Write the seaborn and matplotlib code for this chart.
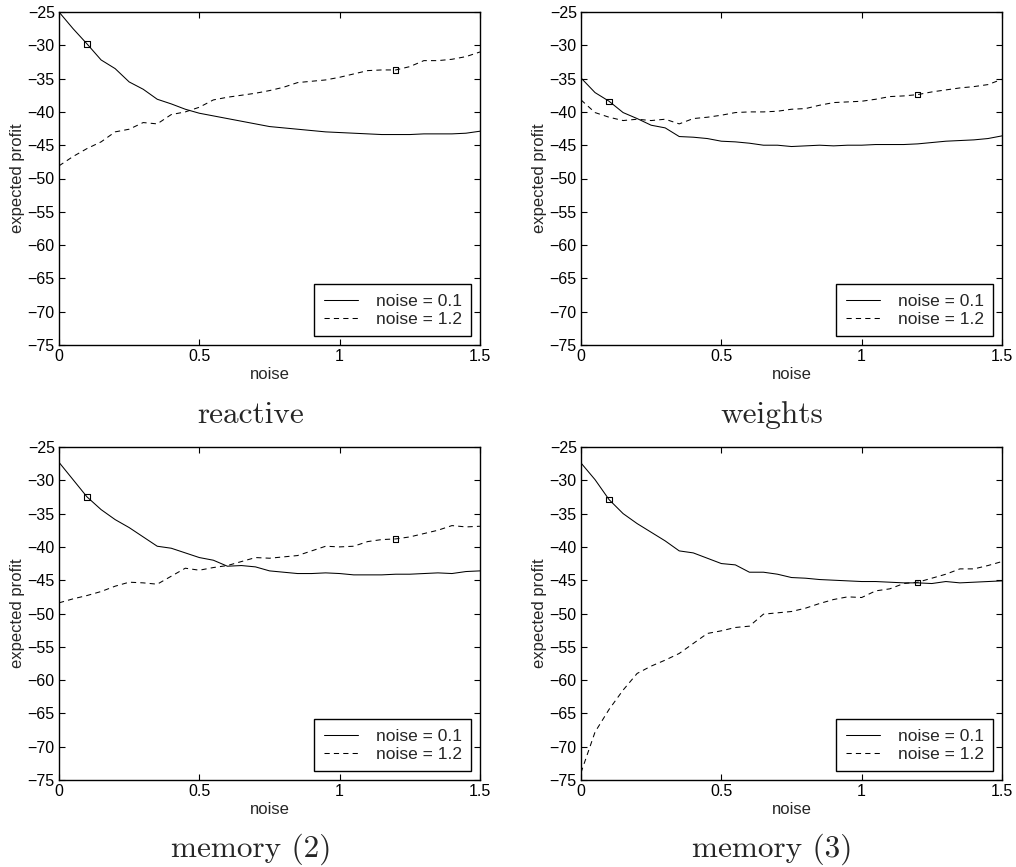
import matplotlib
matplotlib.use("Agg")
import matplotlib.pyplot as plt
from matplotlib.lines import Line2D
import seaborn as sns
import pandas as pd

# noise levels on the x axis
noise = [0.0, 0.05, 0.1, 0.15, 0.2, 0.25, 0.3, 0.35, 0.4, 0.45, 0.5,
         0.55, 0.6, 0.65, 0.7, 0.75, 0.8, 0.85, 0.9, 0.95, 1.0,
         1.05, 1.1, 1.15, 1.2, 1.25, 1.3, 1.35, 1.4, 1.45, 1.5]

# expected profit, strategy trained with noise = 0.1 (solid) and 1.2 (dashed)
reactive_01 = [-25.0, -27.5, -29.8, -32.2, -33.5, -35.5, -36.6, -38.1, -38.8, -39.6, -40.2,
               -40.6, -41.0, -41.4, -41.8, -42.2, -42.4, -42.6, -42.8, -43.0, -43.1,
               -43.2, -43.3, -43.4, -43.4, -43.4, -43.3, -43.3, -43.3, -43.2, -42.9]
reactive_12 = [-48.1, -46.7, -45.5, -44.5, -43.0, -42.6, -41.6, -41.8, -40.4, -40.0, -39.3,
               -38.2, -37.8, -37.5, -37.2, -36.8, -36.3, -35.6, -35.4, -35.2, -34.8,
               -34.3, -33.8, -33.7, -33.7, -33.2, -32.3, -32.3, -32.1, -31.7, -31.0]

weights_01 = [-34.9, -37.1, -38.4, -40.1, -41.0, -42.0, -42.4, -43.7, -43.8, -44.0, -44.4,
              -44.5, -44.7, -45.0, -45.0, -45.2, -45.1, -45.0, -45.1, -45.0, -45.0,
              -44.9, -44.9, -44.9, -44.8, -44.6, -44.4, -44.3, -44.2, -44.0, -43.6]
weights_12 = [-38.2, -40.1, -40.8, -41.3, -41.1, -41.3, -41.1, -41.8, -41.0, -40.8, -40.5,
              -40.1, -40.0, -40.0, -39.9, -39.6, -39.5, -39.0, -38.6, -38.5, -38.4,
              -38.1, -37.7, -37.6, -37.4, -37.0, -36.7, -36.4, -36.2, -35.9, -35.1]

memory2_01 = [-27.3, -29.9, -32.5, -34.4, -35.9, -37.1, -38.5, -39.9, -40.2, -40.9, -41.6,
              -42.0, -42.9, -42.8, -43.0, -43.6, -43.8, -44.0, -44.0, -43.9, -44.0,
              -44.2, -44.2, -44.2, -44.1, -44.1, -44.0, -43.9, -44.0, -43.7, -43.6]
memory2_12 = [-48.4, -47.8, -47.3, -46.7, -45.9, -45.3, -45.4, -45.6, -44.4, -43.2, -43.5,
              -43.1, -42.8, -42.2, -41.6, -41.7, -41.5, -41.3, -40.6, -39.9, -40.0,
              -39.9, -39.2, -38.9, -38.8, -38.5, -38.0, -37.5, -36.8, -37.0, -36.9]

memory3_01 = [-27.4, -29.9, -32.9, -35.0, -36.5, -37.8, -39.1, -40.6, -40.9, -41.7, -42.5,
              -42.7, -43.8, -43.8, -44.1, -44.6, -44.7, -44.9, -45.0, -45.1, -45.2,
              -45.2, -45.3, -45.4, -45.4, -45.5, -45.2, -45.4, -45.3, -45.2, -45.1]
memory3_12 = [-73.9, -67.8, -64.4, -61.5, -59.0, -57.9, -57.0, -56.0, -54.5, -53.0, -52.6,
              -52.1, -51.9, -50.1, -49.9, -49.7, -49.2, -48.5, -47.9, -47.5, -47.6,
              -46.6, -46.3, -45.5, -45.3, -44.7, -44.1, -43.3, -43.3, -42.8, -42.2]

titles = ["reactive", "weights", "memory (2)", "memory (3)"]
series = [(reactive_01, reactive_12), (weights_01, weights_12),
          (memory2_01, memory2_12), (memory3_01, memory3_12)]
legend_labels = ["noise = 0.1", "noise = 1.2"]
xticks = [0, 0.5, 1, 1.5]
xticklabels = ["0", "0.5", "1", "1.5"]
yticks = [-75, -70, -65, -60, -55, -50, -45, -40, -35, -30, -25]

sns.set_style("ticks")
plt.rcParams['font.family'] = ['Liberation Sans', 'DejaVu Sans']
plt.rcParams['axes.linewidth'] = 1.0

fig = plt.figure(figsize=(10.16, 8.67), dpi=100)
FW, FH = 1016, 867
W, H = 421, 333
corners = [(59, 12), (581, 12), (59, 447), (581, 447)]
# caption centre x and baseline y, in pixels from the top-left corner
caption_pos = [(251, 423), (772, 423), (251, 857), (772, 857)]
DASH = (5, 4)

for i, (title, (s01, s12)) in enumerate(zip(titles, series)):
    x0, y0 = corners[i]
    ax = fig.add_axes([x0 / FW, 1 - (y0 + H) / FH, W / FW, H / FH])
    df = pd.DataFrame({"noise": noise, "p01": s01, "p12": s12})

    sns.lineplot(data=df, x="noise", y="p01", color="k", lw=0.75, ax=ax)
    sns.lineplot(data=df, x="noise", y="p12", color="k", lw=0.75, ax=ax,
                 linestyle=(0, DASH))
    # square markers where the test noise equals the training noise
    sns.scatterplot(data=df.iloc[[2]], x="noise", y="p01", marker="s", s=14,
                    facecolor="none", edgecolor="k", linewidth=0.8, ax=ax, zorder=5)
    sns.scatterplot(data=df.iloc[[24]], x="noise", y="p12", marker="s", s=14,
                    facecolor="none", edgecolor="k", linewidth=0.8, ax=ax, zorder=5)

    ax.set_xlim(0, 1.5)
    ax.set_ylim(-75, -25)
    ax.set_xticks(xticks)
    ax.set_xticklabels(xticklabels)
    ax.set_yticks(yticks)
    ax.tick_params(direction="in", length=4, width=0.8, top=True, right=True,
                   labelsize=11.5, pad=3, colors="k")
    for sp in ax.spines.values():
        sp.set_visible(True)
        sp.set_color("k")
    ax.set_xlabel("noise", fontsize=12, labelpad=2)
    ax.set_ylabel("expected profit", fontsize=12, labelpad=2)

    handles = [Line2D([], [], color="k", lw=0.75),
               Line2D([], [], color="k", lw=0.75, linestyle=(0, DASH))]
    leg = ax.legend(handles, legend_labels, loc="lower right", fontsize=12.5,
                    frameon=True, fancybox=False, framealpha=1, edgecolor="k",
                    borderaxespad=0.5, borderpad=0.55, handlelength=2.0,
                    handletextpad=1.0, labelspacing=0.15)
    leg.get_frame().set_linewidth(1.0)

    fig.text(caption_pos[i][0] / FW, 1 - caption_pos[i][1] / FH, title,
             ha="center", va="baseline", fontsize=22.5,
             family=["cmr10", "DejaVu Serif"])

fig.savefig("out.png", dpi=100)
